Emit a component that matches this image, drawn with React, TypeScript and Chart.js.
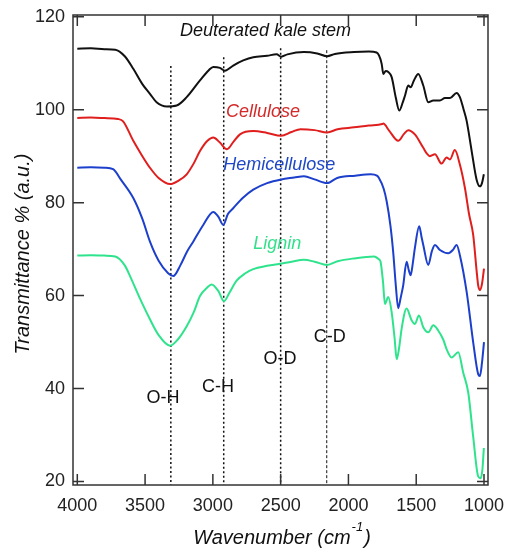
import React, { useEffect, useRef } from "react";
import { Chart, registerables } from "chart.js";

Chart.register(...registerables);

const xTicks = [4000, 3500, 3000, 2500, 2000, 1500, 1000];
const yTicks = [20, 40, 60, 80, 100, 120];

const kaleWn = [4000, 3900, 3800, 3720, 3650, 3587, 3520, 3464, 3415, 3340, 3267, 3193, 3095, 3030, 2997, 2948, 2911, 2850, 2776, 2702, 2600, 2530, 2496, 2450, 2328, 2230, 2157, 2100, 1959, 1850, 1792, 1755, 1743, 1725, 1706, 1681, 1650, 1625, 1600, 1583, 1559, 1541, 1517, 1485, 1448, 1411, 1374, 1325, 1288, 1251, 1202, 1178, 1150, 1128, 1091, 1055, 1030, 1015, 1001];
const kaleT = [113.1, 113.2, 113.0, 112.9, 111.5, 108.8, 105.5, 103.4, 101.6, 100.7, 100.9, 102.7, 106.3, 108.5, 109.2, 109.0, 108.4, 109.5, 110.6, 111.3, 111.6, 111.9, 111.4, 111.9, 112.4, 112.1, 111.5, 112.0, 112.4, 112.5, 112.3, 109.9, 107.7, 108.3, 108.1, 107.0, 102.5, 99.8, 101.5, 103.0, 105.2, 104.8, 106.3, 107.7, 105.2, 101.6, 102.0, 102.0, 102.5, 102.5, 103.6, 102.7, 100.0, 97.6, 91.1, 85.0, 83.5, 84.2, 86.1];

const celWn = [4000, 3900, 3800, 3700, 3662, 3587, 3520, 3464, 3400, 3315, 3250, 3193, 3140, 3095, 3040, 2997, 2950, 2896, 2850, 2800, 2702, 2600, 2496, 2420, 2353, 2250, 2157, 2080, 1959, 1850, 1751, 1743, 1700, 1633, 1590, 1559, 1510, 1448, 1420, 1399, 1362, 1313, 1276, 1251, 1215, 1178, 1141, 1110, 1080, 1055, 1043, 1030, 1015, 1000];
const celT = [98.2, 98.3, 98.2, 98.0, 97.5, 93.3, 90.0, 87.5, 85.3, 84.0, 84.8, 86.1, 88.5, 91.1, 93.3, 94.0, 93.0, 91.5, 93.0, 94.7, 95.4, 95.0, 94.4, 95.2, 95.8, 95.6, 95.1, 95.8, 96.2, 96.6, 96.9, 97.0, 95.5, 93.3, 94.8, 95.6, 94.7, 91.8, 90.5, 90.0, 90.4, 88.4, 89.7, 89.3, 91.3, 88.2, 83.2, 77.5, 73.1, 65.5, 62.2, 61.2, 62.5, 65.8];

const hemWn = [4000, 3900, 3800, 3736, 3680, 3587, 3520, 3464, 3400, 3330, 3292, 3240, 3190, 3145, 3071, 2997, 2960, 2923, 2890, 2850, 2780, 2702, 2600, 2496, 2400, 2328, 2250, 2157, 2083, 1950, 1836, 1790, 1775, 1740, 1718, 1690, 1670, 1650, 1633, 1615, 1596, 1571, 1555, 1541, 1525, 1510, 1478, 1460, 1448, 1411, 1385, 1362, 1325, 1264, 1230, 1202, 1178, 1128, 1080, 1043, 1030, 1015, 1000];
const hemT = [87.5, 87.6, 87.5, 87.2, 85.0, 81.0, 76.5, 71.6, 67.5, 64.8, 64.2, 66.5, 69.5, 71.6, 75.2, 78.0, 77.0, 75.2, 77.5, 78.8, 81.0, 82.8, 84.2, 85.0, 85.4, 85.7, 85.0, 84.2, 85.3, 85.8, 86.1, 85.8, 85.3, 83.0, 80.3, 75.0, 69.4, 62.0, 57.3, 59.5, 62.2, 67.3, 65.5, 64.4, 67.0, 70.2, 74.9, 72.5, 70.9, 66.6, 69.5, 70.9, 69.8, 69.1, 69.8, 70.9, 68.7, 60.8, 50.0, 43.1, 42.7, 45.5, 50.0];

const ligWn = [4000, 3900, 3800, 3720, 3650, 3611, 3540, 3464, 3400, 3316, 3260, 3193, 3140, 3095, 3040, 3009, 2960, 2918, 2880, 2825, 2760, 2702, 2600, 2496, 2420, 2328, 2250, 2157, 2080, 1959, 1811, 1775, 1763, 1745, 1731, 1706, 1681, 1660, 1644, 1625, 1608, 1571, 1534, 1510, 1480, 1448, 1411, 1374, 1338, 1300, 1276, 1239, 1190, 1153, 1116, 1080, 1043, 1025, 1012, 1001];
const ligT = [68.6, 68.7, 68.6, 68.4, 66.5, 64.2, 59.5, 54.9, 51.5, 49.2, 50.5, 53.4, 56.5, 59.9, 61.8, 62.4, 61.0, 58.8, 60.5, 63.2, 64.8, 65.7, 66.4, 66.9, 67.3, 67.7, 67.3, 66.6, 67.4, 68.0, 68.4, 67.8, 67.3, 63.0, 58.2, 59.7, 56.4, 51.0, 46.3, 49.0, 52.8, 57.2, 54.7, 53.9, 55.7, 53.2, 52.1, 53.6, 52.5, 50.5, 48.5, 46.7, 47.8, 43.4, 39.1, 29.7, 21.1, 20.7, 22.5, 27.2];

const seriesNames = ["Deuterated kale stem", "Cellulose", "Hemicellulose", "Lignin"];
const seriesColors = ["#111111", "#e01e1e", "#1c3fcc", "#2ee38c"];
const seriesTextColors = ["#111111", "#d42a2a", "#1f48c8", "#33e08a"];
const seriesLabelWn = [3243, 2903, 2923, 2702];
const seriesLabelT = [116.9, 99.6, 88.2, 71.2];

const markerNames = ["O-H", "C-H", "O-D", "C-D"];
const markerWn = [3310, 2920, 2500, 2160];
const markerTop = [109.4, 111.3, 113.2, 112.8];
const markerLabelWn = [3368, 2962, 2505, 2137];
const markerLabelT = [37.9, 40.4, 46.3, 51.0];

const FONT = "'Liberation Sans', Arial, sans-serif";

function toPoints(wn: number[], t: number[]) {
  return wn.map((x, i) => ({ x, y: t[i] }));
}

const annotPlugin = {
  id: "annot",
  beforeDatasetsDraw(chart: any) {
    const { ctx, scales } = chart;
    const xs = scales.x;
    const ys = scales.y;
    ctx.save();
    ctx.strokeStyle = "#111";
    markerWn.forEach((w, i) => {
      const px = xs.getPixelForValue(w);
      ctx.beginPath();
      ctx.lineWidth = i === 3 ? 1 : 1.5;
      ctx.setLineDash(i === 3 ? [3, 2] : [2, 2.5]);
      ctx.moveTo(px, ys.getPixelForValue(markerTop[i]));
      ctx.lineTo(px, chart.chartArea.bottom);
      ctx.stroke();
    });
    ctx.restore();
  },
  afterDraw(chart: any) {
    const { ctx, scales, chartArea } = chart;
    const xs = scales.x;
    const ys = scales.y;
    ctx.save();
    ctx.strokeStyle = "#333";
    ctx.lineWidth = 1.5;
    ctx.setLineDash([]);
    ctx.strokeRect(chartArea.left, chartArea.top, chartArea.right - chartArea.left, chartArea.bottom - chartArea.top);
    const tl = 11;
    ctx.beginPath();
    xTicks.forEach((v) => {
      const px = xs.getPixelForValue(v);
      ctx.moveTo(px, chartArea.bottom);
      ctx.lineTo(px, chartArea.bottom - tl);
      ctx.moveTo(px, chartArea.top);
      ctx.lineTo(px, chartArea.top + tl);
    });
    yTicks.forEach((v) => {
      const py = ys.getPixelForValue(v);
      ctx.moveTo(chartArea.left, py);
      ctx.lineTo(chartArea.left + tl, py);
      ctx.moveTo(chartArea.right, py);
      ctx.lineTo(chartArea.right - tl, py);
    });
    ctx.stroke();

    ctx.fillStyle = "#111";
    ctx.font = `18px ${FONT}`;
    ctx.textAlign = "center";
    ctx.textBaseline = "middle";
    markerNames.forEach((n, i) => {
      ctx.fillText(n, xs.getPixelForValue(markerLabelWn[i]), ys.getPixelForValue(markerLabelT[i]));
    });

    ctx.font = `italic 18px ${FONT}`;
    ctx.textAlign = "left";
    seriesNames.forEach((n, i) => {
      ctx.fillStyle = seriesTextColors[i];
      ctx.fillText(n, xs.getPixelForValue(seriesLabelWn[i]), ys.getPixelForValue(seriesLabelT[i]));
    });

    ctx.fillStyle = "#111";
    ctx.font = `italic 20px ${FONT}`;
    ctx.save();
    ctx.translate(23, (chartArea.top + chartArea.bottom) / 2 + 4);
    ctx.rotate(-Math.PI / 2);
    ctx.textAlign = "center";
    ctx.fillText("Transmittance % (a.u.)", 0, 0);
    ctx.restore();

    const main = "Wavenumber (cm";
    const sup = "-1";
    const tail = ")";
    ctx.font = `italic 20px ${FONT}`;
    const wMain = ctx.measureText(main).width;
    const wTail = ctx.measureText(tail).width;
    ctx.font = `italic 13px ${FONT}`;
    const wSup = ctx.measureText(sup).width;
    const total = wMain + wSup + wTail + 2;
    const x0 = 282 - total / 2;
    const yb = 538;
    ctx.textAlign = "left";
    ctx.font = `italic 20px ${FONT}`;
    ctx.fillText(main, x0, yb);
    ctx.font = `italic 13px ${FONT}`;
    ctx.fillText(sup, x0 + wMain + 1, yb - 11);
    ctx.font = `italic 20px ${FONT}`;
    ctx.fillText(tail, x0 + wMain + wSup + 2, yb);
    ctx.restore();
  },
};

export default function App() {
  const ref = useRef<HTMLCanvasElement | null>(null);
  useEffect(() => {
    if (!ref.current) return;
    const data = [
      toPoints(kaleWn, kaleT),
      toPoints(celWn, celT),
      toPoints(hemWn, hemT),
      toPoints(ligWn, ligT),
    ];
    const chart = new Chart(ref.current, {
      type: "line",
      data: {
        datasets: data.map((d, i) => ({
          label: seriesNames[i],
          data: d,
          borderColor: seriesColors[i],
          backgroundColor: seriesColors[i],
          borderWidth: 2,
          pointRadius: 0,
          fill: false,
          cubicInterpolationMode: "monotone" as const,
        })),
      },
      options: {
        animation: false,
        responsive: false,
        maintainAspectRatio: false,
        layout: { padding: { top: 15, right: 20, left: 0, bottom: 0 } },
        plugins: { legend: { display: false }, tooltip: { enabled: false } },
        scales: {
          x: {
            type: "linear",
            reverse: true,
            min: 970.5,
            max: 4031.7,
            grid: { display: false },
            border: { display: false },
            afterBuildTicks: (s: any) => {
              s.ticks = xTicks.map((v) => ({ value: v }));
            },
            afterFit: (s: any) => {
              s.height = 63;
            },
            ticks: {
              color: "#222",
              font: { family: FONT, size: 18 },
              padding: 2,
              maxRotation: 0,
              autoSkip: false,
              callback: (v: any) => String(v),
            },
          },
          y: {
            type: "linear",
            min: 19.25,
            max: 120.37,
            grid: { display: false },
            border: { display: false },
            afterBuildTicks: (s: any) => {
              s.ticks = yTicks.map((v) => ({ value: v }));
            },
            afterFit: (s: any) => {
              s.width = 73;
            },
            ticks: {
              color: "#222",
              font: { family: FONT, size: 18 },
              padding: 0,
              autoSkip: false,
              callback: (v: any) => String(v),
            },
          },
        },
      },
      plugins: [annotPlugin],
    });
    return () => chart.destroy();
  }, []);
  return (
    <div style={{ position: "fixed", left: 0, top: 0, width: 508, height: 548, background: "#fff" }}>
      <canvas ref={ref} width={508} height={548} style={{ width: 508, height: 548, display: "block" }} />
    </div>
  );
}
